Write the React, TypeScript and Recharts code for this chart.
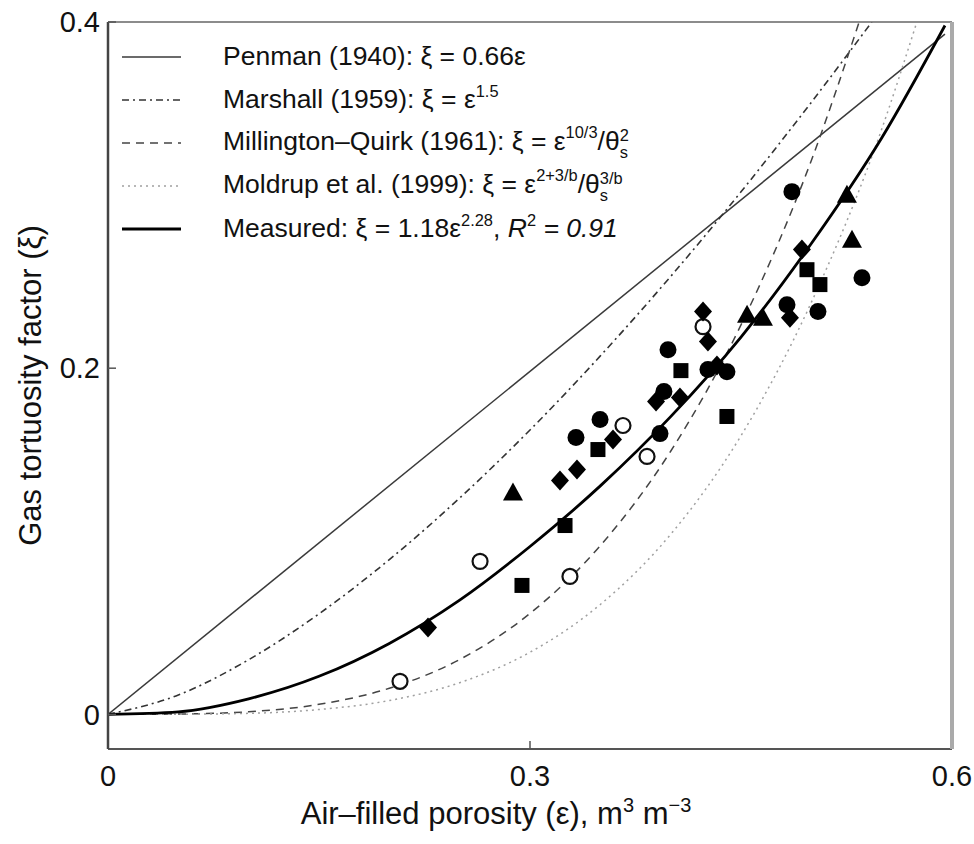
import React from 'react';
import { ComposedChart, Line, Scatter, XAxis, YAxis, Legend } from 'recharts';

const FONT = '"Liberation Sans", Arial, Helvetica, sans-serif';

// axis ticks
const X_TICKS = [0, 0.3, 0.6];
const Y_TICKS = [0, 0.2, 0.4];
const X_TICK_LABELS = ['0', '0.3', '0.6'];
const Y_TICK_LABELS = ['0', '0.2', '0.4'];

// model curves (air-filled porosity -> tortuosity factor)
const PENMAN_EPS = [0, 0.595];
const PENMAN_XI = [0, 0.393];

const MARSHALL_EPS = [0, 0.05, 0.1, 0.15, 0.2, 0.25, 0.3, 0.35, 0.4, 0.45, 0.5, 0.543];
const MARSHALL_XI = [0, 0.0112, 0.0316, 0.0581, 0.0894, 0.125, 0.1643, 0.2071, 0.253, 0.3019, 0.3536, 0.4];

const MQ_EPS = [0, 0.05, 0.1, 0.15, 0.2, 0.25, 0.3, 0.35, 0.4, 0.45, 0.5, 0.534];
const MQ_XI = [0, 0.0002, 0.0015, 0.0058, 0.0151, 0.0317, 0.0583, 0.0975, 0.152, 0.225, 0.32, 0.4];

const MOLDRUP_EPS = [0, 0.05, 0.1, 0.15, 0.2, 0.25, 0.3, 0.35, 0.4, 0.45, 0.5, 0.55, 0.575];
const MOLDRUP_XI = [0, 0.0001, 0.0006, 0.0028, 0.008, 0.0183, 0.0359, 0.0635, 0.104, 0.161, 0.238, 0.338, 0.4];

const MEASURED_EPS = [0, 0.05, 0.1, 0.15, 0.2, 0.25, 0.3, 0.35, 0.4, 0.45, 0.5, 0.55, 0.595];
const MEASURED_XI = [0, 0.0015, 0.009, 0.022, 0.041, 0.066, 0.097, 0.132, 0.172, 0.218, 0.272, 0.333, 0.398];

// measured points, one array pair per marker type
const OPEN_EPS = [0.2076, 0.2645, 0.3284, 0.3661, 0.3832, 0.423];
const OPEN_XI = [0.0191, 0.0884, 0.0797, 0.1669, 0.149, 0.224];

const TRI_EPS = [0.2879, 0.4543, 0.4656, 0.5253, 0.5289];
const TRI_XI = [0.1282, 0.2309, 0.2292, 0.3002, 0.2742];

const SQ_EPS = [0.2943, 0.3249, 0.3483, 0.4073, 0.44, 0.4969, 0.5061];
const SQ_XI = [0.0745, 0.1091, 0.153, 0.1986, 0.1721, 0.2569, 0.2483];

const DIA_EPS = [0.2275, 0.3213, 0.3334, 0.359, 0.3896, 0.4066, 0.423, 0.4265, 0.4329, 0.4933, 0.4848];
const DIA_XI = [0.0502, 0.1351, 0.1415, 0.1588, 0.1807, 0.183, 0.2327, 0.2154, 0.2015, 0.2685, 0.2292];

const DOT_EPS = [0.3327, 0.3498, 0.3952, 0.3981, 0.3924, 0.4265, 0.44, 0.4827, 0.5047, 0.4862, 0.536];
const DOT_XI = [0.1599, 0.1703, 0.1865, 0.2107, 0.1622, 0.1992, 0.198, 0.2367, 0.2327, 0.302, 0.2523];

const LEGEND_NAMES = [
  'Penman (1940):',
  'Marshall (1959):',
  'Millington\u2013Quirk (1961):',
  'Moldrup et al. (1999):',
  'Measured:',
];

const pairs = (xs: number[], ys: number[]) => xs.map((x, i) => ({ x, y: ys[i] }));

const penman = pairs(PENMAN_EPS, PENMAN_XI);
const marshall = pairs(MARSHALL_EPS, MARSHALL_XI);
const millington = pairs(MQ_EPS, MQ_XI);
const moldrup = pairs(MOLDRUP_EPS, MOLDRUP_XI);
const measured = pairs(MEASURED_EPS, MEASURED_XI);

const LINE_STYLES = [
  { stroke: '#3a3a3a', width: 1.5, dash: undefined },
  { stroke: '#333', width: 1.6, dash: '7 4 2 4' },
  { stroke: '#444', width: 1.5, dash: '8 6' },
  { stroke: '#a0a0a0', width: 1.5, dash: '2 4' },
  { stroke: '#000', width: 2.8, dash: undefined },
];

const sup = (t: string) => (
  <span style={{ fontSize: '0.62em', position: 'relative', top: '-0.7em' }}>{t}</span>
);
const stack = (top: string, bottom: string) => (
  <span
    style={{
      display: 'inline-flex',
      flexDirection: 'column',
      fontSize: '0.62em',
      lineHeight: 1.0,
      verticalAlign: 'middle',
      position: 'relative',
      top: '0.05em',
    }}
  >
    <span>{top}</span>
    <span>{bottom}</span>
  </span>
);

const FORMULAS = [
  <> ξ = 0.66ε</>,
  <> ξ = ε{sup('1.5')}</>,
  <> ξ = ε{sup('10/3')}/θ{stack('2', 's')}</>,
  <> ξ = ε{sup('2+3/b')}/θ{stack('3/b', 's')}</>,
  <> ξ = 1.18ε{sup('2.28')}, <i>R</i>{sup('2')}<i> = 0.91</i></>,
];

const renderLegend = () => (
  <div style={{ fontFamily: FONT, fontSize: 26.5, color: '#111' }}>
    {LEGEND_NAMES.map((name, i) => {
      const s = LINE_STYLES[i];
      return (
        <div key={name} style={{ display: 'flex', alignItems: 'center', height: 43, whiteSpace: 'nowrap' }}>
          <svg width={101} height={10} style={{ flex: 'none' }}>
            <line x1={0} x2={59} y1={5} y2={5} stroke={s.stroke} strokeWidth={s.width} strokeDasharray={s.dash} />
          </svg>
          <span>
            {name}
            {FORMULAS[i]}
          </span>
        </div>
      );
    })}
  </div>
);

const filledCircle = (p: any) => <circle cx={p.cx} cy={p.cy} r={8.5} fill="#000" />;
const openCircle = (p: any) => (
  <circle cx={p.cx} cy={p.cy} r={7.5} fill="#fff" stroke="#111" strokeWidth={2.2} />
);
const square = (p: any) => <rect x={p.cx - 7.5} y={p.cy - 7.5} width={15} height={15} fill="#000" />;
const diamond = (p: any) => (
  <polygon
    points={`${p.cx},${p.cy - 10} ${p.cx + 9},${p.cy} ${p.cx},${p.cy + 10} ${p.cx - 9},${p.cy}`}
    fill="#000"
  />
);
const triangle = (p: any) => (
  <polygon points={`${p.cx},${p.cy - 10} ${p.cx + 10},${p.cy + 8} ${p.cx - 10},${p.cy + 8}`} fill="#000" />
);

const renderXTitle = (props: any) => {
  const { x, y, width } = props.viewBox;
  return (
    <text x={x + width / 2 - 34} y={y + 75} textAnchor="middle" fontFamily={FONT} fontSize={31} fill="#111">
      Air–filled porosity (ε), m
      <tspan dy={-12} fontSize={20}>3</tspan>
      <tspan dy={12}> m</tspan>
      <tspan dy={-12} fontSize={20}>−3</tspan>
    </text>
  );
};

const renderYTitle = (props: any) => {
  const { y, height } = props.viewBox;
  const cy = y + height / 2;
  return (
    <text
      x={30}
      y={cy}
      transform={`rotate(-90, 30, ${cy})`}
      textAnchor="middle"
      dominantBaseline="central"
      fontFamily={FONT}
      fontSize={31}
      fill="#111"
    >
      Gas tortuosity factor (ξ)
    </text>
  );
};

const tickStyle = { fontSize: 29, fill: '#111', fontFamily: FONT };

export default function App() {
  return (
    <div style={{ width: 974, height: 844, background: '#fff' }}>
      <style>{'body{margin:0}'}</style>
      <ComposedChart width={974} height={844} margin={{ top: 21, right: 21, bottom: 35, left: 38 }}>
        <XAxis
          dataKey="x"
          type="number"
          domain={[0, 0.6]}
          ticks={X_TICKS}
          tickFormatter={(v: number) => X_TICK_LABELS[X_TICKS.indexOf(v)]}
          allowDataOverflow
          height={60}
          tickSize={-8}
          tickMargin={24}
          tick={tickStyle}
          axisLine={{ stroke: '#555', strokeWidth: 2 }}
          tickLine={{ stroke: '#555', strokeWidth: 1.5 }}
          label={renderXTitle}
        />
        <XAxis
          xAxisId="top"
          orientation="top"
          type="number"
          domain={[0, 0.6]}
          ticks={[0.3]}
          allowDataOverflow
          height={1}
          tickSize={-8}
          tick={false}
          axisLine={{ stroke: '#666', strokeWidth: 1.5 }}
          tickLine={{ stroke: '#555', strokeWidth: 1.5 }}
        />
        <YAxis
          dataKey="y"
          type="number"
          domain={[-0.02, 0.4]}
          ticks={Y_TICKS}
          tickFormatter={(v: number) => Y_TICK_LABELS[Y_TICKS.indexOf(v)]}
          allowDataOverflow
          width={70}
          tickSize={-8}
          tickMargin={16}
          tick={tickStyle}
          axisLine={{ stroke: '#444', strokeWidth: 2.5 }}
          tickLine={{ stroke: '#555', strokeWidth: 1.5 }}
          label={renderYTitle}
        />
        <YAxis
          yAxisId="right"
          orientation="right"
          type="number"
          domain={[-0.02, 0.4]}
          ticks={Y_TICKS}
          allowDataOverflow
          width={1}
          tickSize={-7}
          tick={false}
          axisLine={{ stroke: '#aaa', strokeWidth: 4 }}
          tickLine={{ stroke: '#555', strokeWidth: 1.5 }}
        />
        <Legend
          content={renderLegend}
          layout="vertical"
          align="center"
          verticalAlign="middle"
          wrapperStyle={{ left: 122, top: 35, width: 'auto', height: 'auto' }}
        />
        <Line data={penman} dataKey="y" type="linear" stroke={LINE_STYLES[0].stroke} strokeWidth={LINE_STYLES[0].width} dot={false} isAnimationActive={false} />
        <Line data={marshall} dataKey="y" type="monotone" stroke={LINE_STYLES[1].stroke} strokeWidth={LINE_STYLES[1].width} strokeDasharray={LINE_STYLES[1].dash} dot={false} isAnimationActive={false} />
        <Line data={millington} dataKey="y" type="monotone" stroke={LINE_STYLES[2].stroke} strokeWidth={LINE_STYLES[2].width} strokeDasharray={LINE_STYLES[2].dash} dot={false} isAnimationActive={false} />
        <Line data={moldrup} dataKey="y" type="monotone" stroke={LINE_STYLES[3].stroke} strokeWidth={LINE_STYLES[3].width} strokeDasharray={LINE_STYLES[3].dash} dot={false} isAnimationActive={false} />
        <Line data={measured} dataKey="y" type="monotone" stroke={LINE_STYLES[4].stroke} strokeWidth={LINE_STYLES[4].width} dot={false} isAnimationActive={false} />
        <Scatter data={pairs(OPEN_EPS, OPEN_XI)} dataKey="y" shape={openCircle} isAnimationActive={false} />
        <Scatter data={pairs(TRI_EPS, TRI_XI)} dataKey="y" shape={triangle} isAnimationActive={false} />
        <Scatter data={pairs(SQ_EPS, SQ_XI)} dataKey="y" shape={square} isAnimationActive={false} />
        <Scatter data={pairs(DIA_EPS, DIA_XI)} dataKey="y" shape={diamond} isAnimationActive={false} />
        <Scatter data={pairs(DOT_EPS, DOT_XI)} dataKey="y" shape={filledCircle} isAnimationActive={false} />
      </ComposedChart>
    </div>
  );
}
